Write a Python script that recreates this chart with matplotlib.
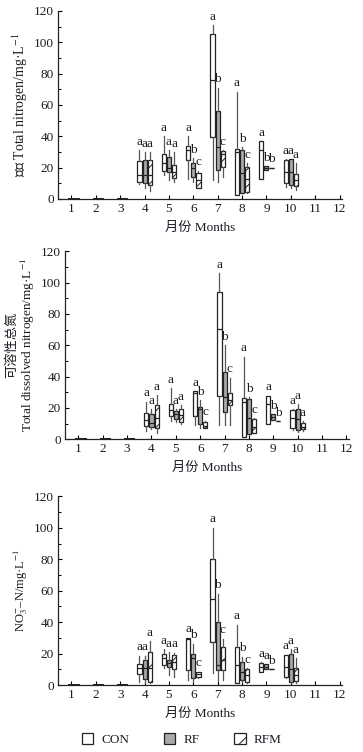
import matplotlib
matplotlib.use("Agg")
import matplotlib.pyplot as plt
from matplotlib.patches import Patch

plt.rcParams['font.family'] = ['Liberation Serif', 'Noto Sans CJK SC']
plt.rcParams['mathtext.fontset'] = 'stix'
plt.rcParams['hatch.linewidth'] = 0.7

TXT = '#1e1a24'

months = [4, 5, 6, 7, 8, 9, 10]
empty_months = [1, 2, 3]
treatments = ['CON', 'RF', 'RFM']

# (whislo, q1, med, q3, whishi) per month 4..10
tn_con = [(9.4, 11, 15.3, 24.3, 31), (15.3, 18, 22.8, 28.7, 40), (13, 25, 31, 34, 40),
          (12, 39.4, 76, 105, 111), (2.5, 2.5, 30, 32, 68.5), (12.6, 12.6, 31, 37, 37),
          (7.5, 10.4, 17, 25, 25.3)]
tn_rf = [(7, 10, 15.3, 25, 30), (12, 17.4, 19.6, 26.6, 31), (11, 14, 19.6, 23, 26),
         (11, 18.5, 33, 56.4, 71), (4, 4, 16.4, 31.3, 33), (18.5, 18.5, 20, 21, 21),
         (7, 9, 17, 25.3, 25.6)]
tn_rfm = [(5, 9, 15, 25, 30), (11, 13.2, 17, 21.7, 30), (7, 7.2, 12, 16.8, 18),
          (14, 20.6, 28.7, 30.9, 31), (4, 4.7, 13, 20.6, 23), (20, 20, 20, 20, 20),
          (6, 8, 12, 16, 23)]
tn_letters = [list('aaaaaaa'), list('aabbbba'), list('aacccba')]

tdn_con = [(5.3, 8.7, 12, 17, 24), (11.3, 14.9, 18.7, 22.5, 32.5), (9, 15, 29.3, 30.6, 30.6),
           (9, 27.8, 70.5, 93.7, 105.8), (1.7, 1.7, 24, 26.5, 52.7), (9.8, 9.8, 22.5, 27.8, 27.8),
           (6, 7, 13.4, 18.7, 19)]
tdn_rf = [(6.4, 7.6, 10.6, 16, 19), (10.8, 13, 16, 18, 19), (7, 9.6, 19, 20.4, 25),
          (9, 17.6, 27, 42.7, 60), (3.2, 3.2, 13.4, 25.5, 27), (12.3, 12.3, 14.4, 16, 16),
          (4.5, 6, 13, 19.3, 22.5)]
tdn_rfm = [(3.8, 7, 13.4, 21.5, 28), (10, 10.8, 15.5, 19, 21.5), (7, 7, 8.5, 10.8, 11.7),
           (9, 21.5, 25, 29.7, 39.3), (3.8, 3.8, 8, 13, 13.4), (11.3, 11.3, 11.3, 11.3, 11.3),
           (4.9, 6.6, 8, 10.6, 11.3)]
tdn_letters = [list('aaaaaaa'), list('aabbbba'), list('aacccba')]

no3_con = [(1.7, 7, 11, 13.7, 18.6), (10.6, 13, 17, 20, 23), (3.2, 9.5, 29, 30.2, 30.2),
           (7.8, 27.5, 55, 80.3, 100), (1, 1, 13, 23.9, 38.5), (8, 8, 11.6, 14.2, 14.6),
           (4.2, 4.9, 11.6, 19, 19.4)]
no3_rf = [(1, 3.8, 10.6, 15.8, 18.6), (6.3, 11.6, 14, 15.8, 21), (2.1, 4.2, 17, 20, 26.4),
          (3.2, 9.5, 12.7, 40, 58), (2.1, 3.2, 8.5, 14.8, 18), (10, 10, 11.6, 13.3, 13.3),
          (1, 2.1, 10, 19.6, 23)]
no3_rfm = [(1, 2.1, 10.6, 21, 28), (5.3, 10, 14.8, 19, 20.5), (4.2, 5.3, 6.8, 8, 8.5),
           (3.2, 9.5, 16, 24.3, 29.6), (1.5, 2.1, 6.3, 10, 10.6), (10, 10, 10, 10, 10),
           (1, 2.7, 6.3, 10.6, 17)]
no3_letters = [list('aaaaaaa'), list('aabbbaa'), list('aacccba')]

ylabels = ['总氮 Total nitrogen/mg·L$^{-1}$',
           '可溶性总氮\nTotal dissolved nitrogen/mg·L$^{-1}$',
           'NO$_3^{-}$–N/mg·L$^{-1}$']
ylabel_sizes = [10, 9.5, 9]

offsets = [-0.21, 0.0, 0.21]
fills = ['white', '#a9a9a9', 'white']
hatches = [None, None, '//']


def to_stats(rows):
    return [dict(whislo=r[0], q1=r[1], med=r[2], q3=r[3], whishi=r[4], fliers=[]) for r in rows]


def draw_panel(ax, series, letters, ylabel, ylsize):
    for i, rows in enumerate(series):
        pos = [m + offsets[i] for m in months]
        ax.bxp(to_stats(rows), positions=pos, widths=0.17, patch_artist=True,
               showcaps=False, showfliers=False, manage_ticks=False,
               boxprops=dict(facecolor=fills[i], edgecolor='#222222', linewidth=0.9,
                             hatch=hatches[i]),
               medianprops=dict(color='#222222', linewidth=0.9),
               whiskerprops=dict(color='#555555', linewidth=0.9))
        for p, r, lab in zip(pos, rows, letters[i]):
            ax.text(p, r[4] + 1.5, lab, ha='center', va='bottom', fontsize=9.5, color=TXT)
        # empty months show as flat zero boxes
        if i > 0:
            zero = [(0, 0, 0, 0, 0)] * len(empty_months)
            ax.bxp(to_stats(zero), positions=[m + offsets[i] for m in empty_months],
                   widths=0.17, showcaps=False, showfliers=False, manage_ticks=False,
                   boxprops=dict(color='#222222', linewidth=1.4),
                   medianprops=dict(color='#222222', linewidth=1.4))

    ax.set_xlim(0.45, 12.1)
    ax.set_ylim(0, 120)
    ax.set_xticks(range(1, 13))
    ax.set_yticks(range(0, 121, 20))
    ax.set_yticks(range(0, 121, 10), minor=True)
    ax.spines['top'].set_visible(False)
    ax.spines['right'].set_visible(False)
    for s in ['left', 'bottom']:
        ax.spines[s].set_linewidth(0.9)
        ax.spines[s].set_color('#222222')
    ax.tick_params(direction='in', length=3, width=0.8, labelsize=9.5, labelcolor=TXT, pad=3)
    ax.tick_params(which='minor', direction='in', length=1.8, width=0.7)
    ax.set_xlabel('月份 Months', fontsize=9.5, color=TXT, labelpad=5)
    ax.set_ylabel(ylabel, fontsize=ylsize, color=TXT, labelpad=3, linespacing=1.05)


fig = plt.figure(figsize=(3.63, 7.52), dpi=100)
ax1 = fig.add_axes([0.160, 0.7354, 0.782, 0.25])
ax2 = fig.add_axes([0.179, 0.416, 0.782, 0.25])
ax3 = fig.add_axes([0.160, 0.089, 0.782, 0.251])

draw_panel(ax1, [tn_con, tn_rf, tn_rfm], tn_letters, ylabels[0], ylabel_sizes[0])
draw_panel(ax2, [tdn_con, tdn_rf, tdn_rfm], tdn_letters, ylabels[1], ylabel_sizes[1])
draw_panel(ax3, [no3_con, no3_rf, no3_rfm], no3_letters, ylabels[2], ylabel_sizes[2])

handles = [Patch(facecolor=fills[i], edgecolor='#222222', hatch=hatches[i], linewidth=0.9,
                 label=treatments[i]) for i in range(3)]
fig.legend(handles=handles, loc='center', bbox_to_anchor=(0.5, 0.016), ncol=3,
           frameon=False, fontsize=9.5, handlelength=0.9, handleheight=0.9,
           handletextpad=0.6, columnspacing=2.6, labelcolor=TXT)

fig.savefig('out.png', dpi=100)
